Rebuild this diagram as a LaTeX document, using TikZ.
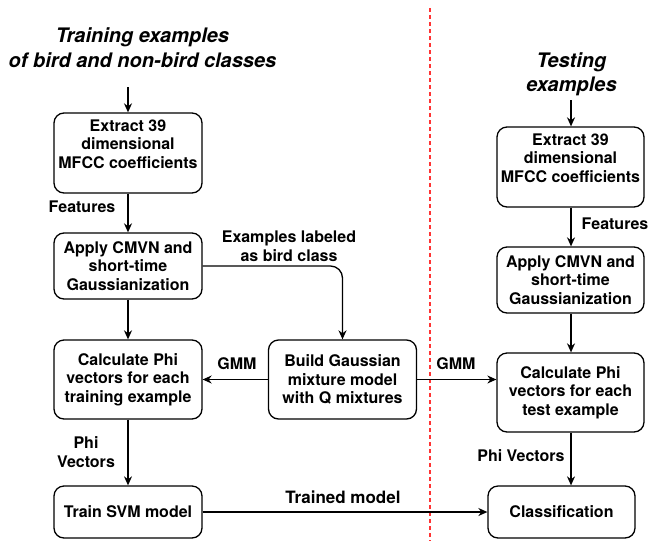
\documentclass[tikz,border=0pt]{standalone}
\usepackage{fontspec}
\setmainfont{TeX Gyre Heros}
\usetikzlibrary{arrows.meta}

\begin{document}
\begin{tikzpicture}[x=1pt,y=-1pt,
  box/.style={draw,line width=1.3pt,rounded corners=10pt,minimum width=148pt,
    inner sep=0pt,align=center,font=\fontsize{16}{18.5}\selectfont\bfseries},
  lbl/.style={align=center,font=\fontsize{16}{18.5}\selectfont\bfseries},
  ttl/.style={align=center,font=\fontsize{20}{25}\selectfont\bfseries\itshape},
  arr/.style={-{Stealth[length=9pt,width=8pt]},line width=1.3pt}]
\useasboundingbox (0,0) rectangle (652,541);
% separator
\draw[red!80!white,line width=1.2pt,dash pattern=on 4pt off 3pt] (430,8) -- (430,541);
% training side
\node[ttl] (trtitle) at (142.5,47.5) {Training examples\\of bird and non-bird classes};
\node[box,minimum height=80pt] (ext1) at (128,153) {Extract 39\\dimensional\\MFCC coefficients\\ \mbox{}};
\node[box,minimum height=66pt] (cmvn1) at (128,266) {Apply CMVN and\\short-time\\Gaussianization};
\node[box,minimum height=79pt] (phi1) at (128,379.5) {Calculate Phi\\vectors for each\\training example};
\node[box,minimum height=52pt] (svm) at (128,512) {Train SVM model};
\node[box,minimum height=79pt] (gmmbox) at (342.5,379.5) {Build Gaussian\\mixture model\\with Q mixtures};
\coordinate (trin) at (128,87);
% testing side
\node[ttl,font=\fontsize{20}{24}\selectfont\bfseries\itshape] (tetitle) at (571.5,74) {Testing\\examples};
\node[box,minimum height=80pt,minimum width=147pt] (ext2) at (570.5,167) {Extract 39\\dimensional\\MFCC coefficients\\ \mbox{}};
\node[box,minimum height=66pt,minimum width=147pt] (cmvn2) at (570.5,280) {Apply CMVN and\\short-time\\Gaussianization};
\node[box,minimum height=79pt,minimum width=147pt] (phi2) at (570.5,392.5) {Calculate Phi\\vectors for each\\test example};
\node[box,minimum height=52pt,minimum width=147pt] (clsf) at (561.5,512) {Classification};
\coordinate (tein) at (571,100);
% connectors
\draw[arr] (trin) -- (ext1.north);
\draw[arr] (ext1) -- (cmvn1);
\draw[arr] (cmvn1) -- (phi1);
\draw[arr] (phi1) -- (svm);
\draw[arr,rounded corners=12pt] (cmvn1.east) -| (gmmbox.north);
\draw[arr] (gmmbox.west) -- (phi1.east);
\draw[arr] (gmmbox.east) -- (gmmbox.east -| phi2.west);
\draw[arr] (svm.east) -- (clsf.west);
\draw[arr] (tein) -- (tein |- ext2.north);
\draw[arr] (ext2.south -| tein) -- (tein |- cmvn2.north);
\draw[arr] (cmvn2.south -| tein) -- (tein |- phi2.north);
\draw[arr] (phi2.south -| tein) -- (tein |- clsf.north);
% labels
\node[lbl] (feat1) at (82,207) {Features};
\node[lbl] (exlab) at (289,246) {Examples labeled\\as bird class};
\node[lbl] (gmm1) at (237,364) {GMM};
\node[lbl] (gmm2) at (456,364) {GMM};
\node[lbl] (pv1) at (86,452) {Phi\\Vectors};
\node[lbl,font=\fontsize{17}{20}\selectfont\bfseries] (trmod) at (343,497) {Trained model};
\node[lbl] (feat2) at (615,224) {Features};
\node[lbl] (pv2) at (521,456) {Phi Vectors};
\end{tikzpicture}
\end{document}
